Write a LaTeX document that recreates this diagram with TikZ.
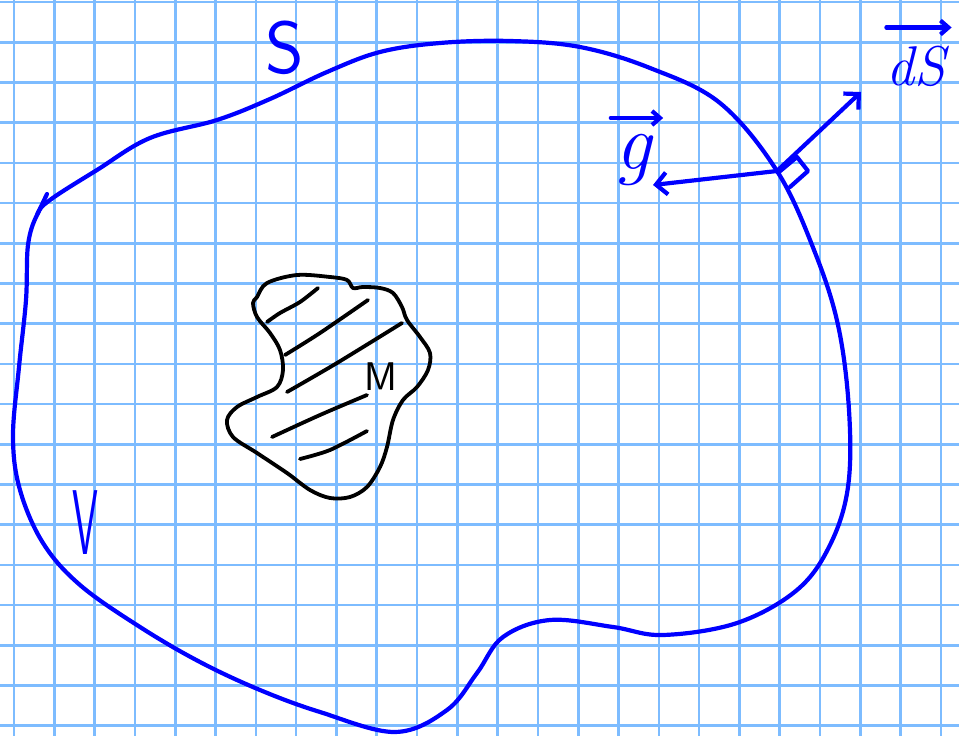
\RequirePackage{fix-cm}
\documentclass[tikz,border=0pt]{standalone}
\usepackage{fontspec}
\usetikzlibrary{arrows.meta}
\definecolor{gridblue}{RGB}{125,188,255}

\begin{document}
\begin{tikzpicture}[x=1pt, y=-1pt,
	gridline/.style={gridblue, line width=2.6},
	pen/.style={blue, line width=4.2, line cap=round, line join=round},
	ink/.style={black, line width=3.8, line cap=round, line join=round},
	hand/.style={blue, inner sep=0pt},
	barb/.style={-{Straight Barb[length=11, width=22]}},
	smallbarb/.style={-{Straight Barb[length=8, width=14]}}]
	\useasboundingbox (0,0) rectangle (959,736);
	% 1. Grid paper
	\fill[white] (0,0) rectangle (959,736);
	\foreach \i in {0,1,...,23} {
		\draw[gridline] (14+40.3*\i,0) -- (14+40.3*\i,736);
	}
	\foreach \j in {0,1,...,18} {
		\draw[gridline] (0,2+40.2*\j) -- (959,2+40.2*\j);
	}
	
	% 2. Closed surface S
	\draw[pen] plot[smooth cycle, tension=0.6] coordinates {
		(28,245) (26,300) (19,367) (13,437) (20,490) (43,543) (80,585) (140,627)
		(200,662) (260,690) (320,712) (395,732) (447,710) (477,673) (503,637) (550,620)
		(613,627) (663,635) (737,623) (797,590) (830,545) (848,487) (849,410) (838,325)
		(814,250) (777,171) (720,103) (650,68) (580,47) (510,41) (440,43) (380,52)
		(327,72) (270,99) (217,120) (150,138) (97,170) (50,200) (37,215)};
	% Direction tick on the surface
	\draw[pen] (47,194) -- (37,215);
	
	% 3. Mass M
	\draw[ink] plot[smooth cycle, tension=0.55] coordinates {
		(257,297) (267,283) (297,275) (330,277) (347,280) (353,288) (363,287) (380,288)
		(393,293) (402,307) (407,320) (420,337) (430,353) (428,370) (417,387) (403,400)
		(393,420) (387,447) (380,467) (367,487) (350,497) (330,498) (310,490) (287,473)
		(257,453) (233,437) (227,420) (237,407) (257,397) (277,387) (283,370) (280,350)
		(270,333) (257,317) (253,303)};
	% Hatching
	\draw[ink] plot[smooth] coordinates {(267,322) (280,313) (300,302) (318,288)};
	\draw[ink] plot[smooth] coordinates {(285,355) (320,333) (368,300)};
	\draw[ink] plot[smooth] coordinates {(287,392) (337,363) (402,323)};
	\draw[ink] plot[smooth] coordinates {(272,437) (320,415) (367,395)};
	\draw[ink] plot[smooth] coordinates {(300,459) (330,450) (367,431)};
	\node[black, inner sep=0pt, font=\fontsize{40}{44}\selectfont\sffamily] (M) at (381,377) {M};
	
	% 4. Labels
	\node[hand, font=\fontsize{74}{80}\selectfont\sffamily] (S) at (285,48) {S};
	\node[hand, font=\fontsize{92}{96}\selectfont\sffamily] (V) at (85,523) {\scalebox{0.45}[1]{V}};
	\node[hand, font=\fontsize{80}{86}\selectfont\itshape] (g) at (633,160) {g};
	\node[hand, font=\fontsize{56}{60}\selectfont\itshape] (dS) at (916,66) {dS};
	% vector arrows over the letters
	\draw[pen, smallbarb] ([xshift=-4pt, yshift=16pt]g.north west) -- ([xshift=12pt, yshift=16pt]g.north east);
	\draw[pen, smallbarb] ([yshift=18pt]dS.north west) -- ([xshift=6pt, yshift=18pt]dS.north east);
	
	% 5. Field and area vectors at point P
	\coordinate (P) at (777,171);
	\coordinate (gtip) at (653,185);
	\coordinate (dstip) at (861,92);
	\draw[pen, barb] (P) -- (gtip);
	\draw[pen, barb] (P) -- (dstip);
	% right angle mark
	\draw[pen] (779,172) -- (797,157) -- (808,171) -- (790,187);
\end{tikzpicture}
\end{document}
